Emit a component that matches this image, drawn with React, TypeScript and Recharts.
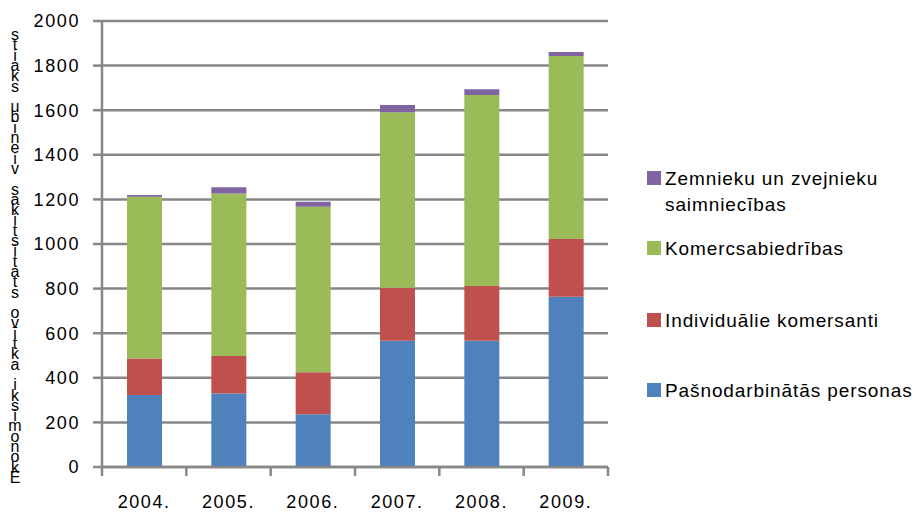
import React from 'react';
import { BarChart, Bar, XAxis, YAxis, CartesianGrid } from 'recharts';

// gada dati (vienības), nolasīti no attēla
const years = ['2004.', '2005.', '2006.', '2007.', '2008.', '2009.'];
const pasnodarbinatas = [323, 330, 236, 566, 566, 764];
const individualie = [164, 168, 189, 238, 246, 258];
const komercsabiedribas = [725, 729, 742, 787, 856, 821];
const zemnieki = [8, 27, 23, 32, 26, 18];
const yTicks = [0, 200, 400, 600, 800, 1000, 1200, 1400, 1600, 1800, 2000];
const yLabel = 'Ekonomiski aktīvo statistikas vienību skaits';

const series = [
  { key: 'pas', name: 'Pašnodarbinātās personas', color: '#4f81bd', values: pasnodarbinatas },
  { key: 'ind', name: 'Individuālie komersanti', color: '#c0504d', values: individualie },
  { key: 'kom', name: 'Komercsabiedrības', color: '#9bbb59', values: komercsabiedribas },
  { key: 'zem', name: 'Zemnieku un zvejnieku saimniecības', color: '#8064a2', values: zemnieki },
];

const data = years.map((year, i) => {
  const row: Record<string, string | number> = { year };
  series.forEach((s) => (row[s.key] = s.values[i]));
  return row;
});

const GRAY = '#878787';
const FONT = '"Liberation Sans", Arial, sans-serif';
const PLOT_BOTTOM = 467;
const HALF_BAND = 506 / years.length / 2;

const XTick = (props: any) => {
  const { x, payload, index } = props;
  return (
    <g>
      <line x1={x - HALF_BAND} x2={x - HALF_BAND} y1={PLOT_BOTTOM} y2={PLOT_BOTTOM + 9} stroke={GRAY} strokeWidth={2.5} />
      {index === years.length - 1 && (
        <line x1={x + HALF_BAND} x2={x + HALF_BAND} y1={PLOT_BOTTOM} y2={PLOT_BOTTOM + 9} stroke={GRAY} strokeWidth={2.5} />
      )}
      <text x={x} y={508} textAnchor="middle" fontSize={18} letterSpacing={1.6} fill="#000" fontFamily={FONT}>
        {payload.value}
      </text>
    </g>
  );
};

// ass nosaukums: burti stāvus, viens zem otra, apgrieztā secībā (kā oriģinālā)
const YTitle = () => {
  const chars = yLabel.split('').reverse();
  return (
    <g>
      {chars.map((c, i) => (
        <text key={i} x={15} y={40 + i * 10.3} textAnchor="middle" fontSize={16} fill="#000" fontFamily={FONT}>
          {c}
        </text>
      ))}
    </g>
  );
};

const LegendBox = () => {
  const items = [...series].reverse();
  const tops = [166, 236, 308, 378];
  return (
    <div style={{ position: 'absolute', left: 647, top: 0, fontFamily: FONT, fontSize: 19, letterSpacing: 0.9, color: '#000' }}>
      {items.map((s, i) => (
        <div key={s.key} style={{ position: 'absolute', left: 0, top: tops[i], display: 'flex', alignItems: 'flex-start' }}>
          <div style={{ width: 14, height: 14, background: s.color, marginTop: 5, marginRight: 4 }} />
          <div style={{ width: 250, lineHeight: '26px', textAlign: 'left', whiteSpace: 'nowrap' }}>
            {s.key === 'zem' ? (
              <>
                Zemnieku un zvejnieku
                <br />
                saimniecības
              </>
            ) : (
              s.name
            )}
          </div>
        </div>
      ))}
    </div>
  );
};

export default function App() {
  return (
    <div style={{ position: 'absolute', left: 0, top: 0, width: 913, height: 513, background: '#fff' }}>
      <BarChart width={913} height={513} data={data} margin={{ top: 21, right: 305, left: 42, bottom: 0 }}>
        <CartesianGrid horizontal vertical={false} stroke={GRAY} strokeWidth={2.5} />
        <XAxis dataKey="year" height={46} axisLine={{ stroke: GRAY, strokeWidth: 2.5 }} tickLine={false} tick={<XTick />} interval={0} />
        <YAxis
          width={60}
          domain={[0, 2000]}
          ticks={yTicks}
          interval={0}
          tickSize={9}
          tickMargin={13}
          axisLine={{ stroke: GRAY, strokeWidth: 2.5 }}
          tickLine={{ stroke: GRAY, strokeWidth: 2.5 }}
          tick={{ fill: '#000', fontSize: 18, fontFamily: FONT, letterSpacing: 1.6 }}
          label={{ content: () => <YTitle /> }}
        />
        {series.map((s) => (
          <Bar key={s.key} dataKey={s.key} name={s.name} stackId="a" fill={s.color} barSize={35} isAnimationActive={false} />
        ))}
      </BarChart>
      <LegendBox />
    </div>
  );
}
